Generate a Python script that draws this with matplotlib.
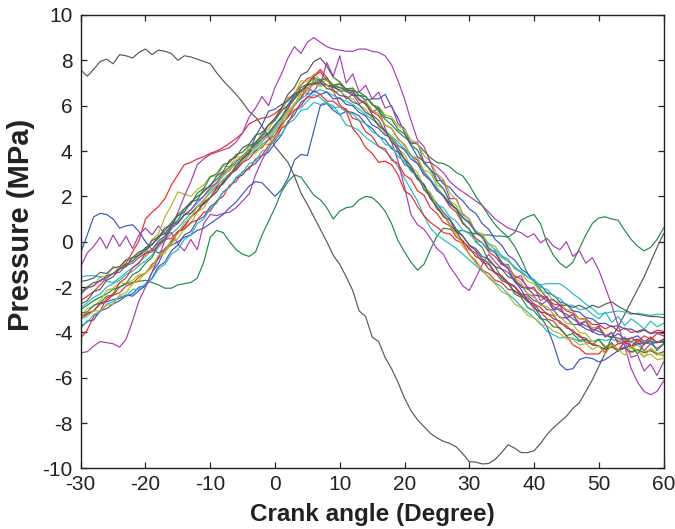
import matplotlib
matplotlib.use("Agg")
import matplotlib.pyplot as plt

# ---------------- data ----------------
ANGLE = list(range(-30, 61))  # crank angle, degrees

XTICKS = [-30, -20, -10, 0, 10, 20, 30, 40, 50, 60]
YTICKS = [-10, -8, -6, -4, -2, 0, 2, 4, 6, 8, 10]

B1 = [-0.5, 0.3, 1.1, 1.25, 1.2, 1.0, 0.6, 0.7, 0.75, 0.45,
      0.0, -0.35, -0.5, -0.35, -0.15, 0.0, 0.2, 0.3, 0.5, 0.6,
      0.8, 1.0, 1.2, 1.5, 1.75, 2.1, 2.45, 2.65, 2.6, 2.3,
      2.0, 2.3, 2.8, 3.6, 3.85, 3.8, 4.9, 6.0, 6.1, 5.8,
      5.6, 5.75, 5.7, 5.55, 5.2, 5.0, 4.65, 4.5, 4.1, 3.95,
      3.4, 3.25, 2.75, 2.55, 2.0, 1.7, 1.3, 1.0, 0.55, 0.25,
      -0.15, -0.4, -0.75, -0.95, -1.35, -1.5, -1.8, -1.95, -2.3, -2.35,
      -2.6, -2.7, -3.0, -3.0, -3.35, -3.35, -3.65, -3.65, -3.85, -3.95,
      -4.1, -4.1, -4.25, -4.05, -4.3, -4.25, -4.15, -4.4, -4.25, -4.45,
      -4.3]
G1 = [-3.0, -2.8, -2.6, -2.45, -2.3, -2.1, -2.0, -1.85, -1.8, -1.75,
      -1.7, -1.8, -1.9, -2.05, -2.05, -1.9, -1.85, -1.8, -1.6, -0.9,
      0.2, 0.5, 0.4, 0.0, -0.35, -0.55, -0.65, -0.45, 0.3, 0.9,
      1.5, 2.2, 2.65, 2.95, 2.85, 2.45, 2.05, 1.85, 1.5, 1.0,
      1.35, 1.5, 1.55, 1.85, 2.0, 1.95, 1.7, 1.35, 0.8, 0.05,
      -0.45, -0.9, -1.25, -1.0, -0.35, 0.25, 0.6, 0.55, 0.45, 0.5,
      0.4, 0.35, 0.3, 0.3, 0.25, 0.25, 0.2, -0.2, -0.75, -1.4,
      -1.75, -2.1, -2.5, -2.85, -3.05, -3.2, -3.4, -3.6, -3.7, -3.85,
      -3.95, -4.1, -4.2, -4.25, -4.3, -4.4, -4.3, -4.45, -4.5, -4.4,
      -4.45]
R1 = [-2.6, -2.4, -2.2, -1.9, -1.6, -1.4, -1.15, -0.95, -0.45, 0.05,
      1.0, 1.3, 1.55, 1.9, 2.5, 2.95, 3.4, 3.5, 3.65, 3.75,
      3.9, 4.0, 4.15, 4.35, 4.55, 4.8, 5.2, 5.35, 5.45, 5.5,
      5.65, 5.9, 6.3, 6.5, 6.9, 7.2, 7.3, 7.5, 7.1, 6.9,
      6.8, 6.65, 6.55, 6.3, 6.05, 5.75, 5.55, 5.15, 5.0, 4.55,
      4.25, 3.8, 3.6, 3.05, 2.75, 2.3, 2.0, 1.55, 1.3, 0.8,
      0.55, 0.15, -0.05, -0.45, -0.65, -1.0, -1.15, -1.5, -1.65, -2.0,
      -2.1, -2.35, -2.5, -2.75, -2.8, -3.05, -3.15, -3.4, -3.4, -3.65,
      -3.65, -3.85, -3.7, -3.95, -3.8, -4.0, -3.95, -3.85, -4.05, -3.9,
      -3.95]
C1 = [-2.9, -2.7, -2.45, -2.3, -2.0, -1.85, -1.7, -1.45, -1.3, -1.05,
      -0.85, -0.6, -0.25, 0.05, 0.35, 0.6, 0.95, 1.25, 1.55, 1.85,
      2.15, 2.45, 2.75, 3.0, 3.25, 3.5, 3.8, 4.05, 4.3, 4.5,
      4.85, 5.2, 5.5, 5.8, 5.9, 6.2, 6.5, 6.35, 6.1, 6.0,
      5.6, 5.15, 5.05, 4.9, 4.6, 4.4, 4.2, 4.0, 3.7, 3.3,
      2.8, 2.3, 1.8, 1.15, 0.6, 0.3, 0.1, -0.1, -0.3, -0.55,
      -0.8, -1.05, -1.3, -1.55, -1.8, -2.0, -2.3, -2.55, -2.85, -3.1,
      -3.35, -3.6, -3.95, -4.1, -4.25, -4.2, -4.25, -4.4, -4.35, -4.4,
      -4.3, -4.35, -4.3, -4.4, -4.35, -4.45, -4.5, -4.4, -4.5, -4.45,
      -4.35]
M1 = [-1.1, -0.5, -0.2, 0.2, -0.3, 0.3, -0.2, 0.25, -0.3, 0.3,
      0.6, 0.3, 0.7, 0.35, 0.4, -0.1, -0.4, 0.1, -0.35, 0.8,
      1.2, 1.15, 1.25, 1.3, 1.5, 1.8, 2.1, 2.95, 3.6, 4.1,
      4.6, 5.2, 5.5, 6.1, 6.3, 6.8, 6.6, 7.1, 6.9, 6.8,
      6.7, 6.3, 6.5, 6.1, 6.2, 5.7, 5.9, 5.0, 4.4, 3.55,
      2.4, 1.2, 0.75, 0.55, 0.15, -0.3, -0.55, -1.1, -1.5, -1.95,
      -2.15, -1.6, -1.0, -0.55, -0.9, -1.2, -1.35, -1.75, -1.9, -2.3,
      -2.4, -2.8, -2.6, -3.0, -2.95, -3.35, -3.2, -3.6, -3.5, -3.9,
      -3.8, -4.2, -4.0, -4.4, -4.2, -4.6, -4.4, -4.8, -4.5, -4.7,
      -4.5]
Y1 = [-2.35, -2.0, -1.95, -1.55, -1.5, -1.1, -1.2, -0.8, -0.85, -0.5,
      -0.6, 0.1, 0.35, 1.1, 1.6, 2.2, 2.1, 2.0, 2.3, 2.5,
      2.9, 2.9, 3.35, 3.3, 3.75, 3.7, 4.2, 4.3, 4.85, 4.95,
      5.45, 5.7, 6.35, 6.5, 7.1, 7.05, 7.4, 7.15, 7.25, 6.85,
      6.95, 6.6, 6.65, 6.25, 6.2, 5.8, 5.65, 5.15, 5.0, 4.5,
      4.3, 3.8, 3.7, 3.15, 3.05, 2.5, 2.35, 1.8, 1.6, 1.05,
      0.9, 0.45, 0.35, -0.1, -0.2, -0.65, -0.75, -1.2, -1.35, -1.75,
      -1.85, -2.2, -2.25, -2.6, -2.7, -3.0, -3.05, -3.4, -3.45, -3.8,
      -3.75, -4.1, -4.05, -4.35, -4.35, -4.7, -4.55, -4.85, -4.75, -5.0,
      -4.95]
K1 = [7.58, 7.3, 7.6, 7.95, 8.05, 7.85, 8.25, 8.2, 8.1, 8.35,
      8.5, 8.25, 8.45, 8.4, 8.3, 8.0, 8.2, 8.15, 8.05, 7.95,
      7.85, 7.45, 7.1, 6.8, 6.5, 6.15, 5.75, 5.5, 5.1, 4.65,
      4.2, 3.85, 3.5, 2.9, 2.15, 1.65, 1.1, 0.55, 0.0, -0.6,
      -1.0, -1.55, -2.15, -3.05, -3.3, -4.2, -4.4, -5.1, -5.6, -6.2,
      -6.9, -7.45, -7.85, -8.15, -8.45, -8.65, -8.8, -8.9, -9.05, -9.35,
      -9.7, -9.72, -9.8, -9.78, -9.6, -9.3, -8.95, -9.1, -9.3, -9.3,
      -9.22, -8.9, -8.5, -8.2, -7.95, -7.7, -7.35, -7.1, -6.6, -6.1,
      -5.5, -4.9, -4.2, -3.75, -3.2, -2.65, -2.1, -1.55, -0.9, -0.25,
      0.35]
B2 = [-3.4, -3.2, -3.05, -2.75, -2.65, -2.55, -2.5, -2.35, -2.4, -2.15,
      -1.95, -1.35, -0.95, -0.35, 0.0, 0.45, 0.7, 1.1, 1.3, 1.7,
      1.95, 2.35, 2.55, 2.95, 3.2, 3.65, 3.95, 4.65, 5.15, 5.75,
      5.85, 6.05, 6.2, 6.55, 6.6, 6.9, 7.0, 7.15, 6.9, 6.85,
      6.65, 6.65, 6.45, 6.45, 6.25, 6.3, 6.3, 6.5, 5.95, 5.45,
      4.8, 4.25, 3.75, 3.55, 3.15, 2.95, 2.55, 2.4, 2.05, 1.8,
      1.45, 1.25, 0.8, 0.55, 0.1, -0.15, -0.6, -0.8, -1.2, -1.4,
      -1.75, -1.9, -2.25, -2.35, -2.65, -2.75, -3.05, -3.1, -3.35, -3.4,
      -3.6, -3.6, -3.75, -3.7, -3.85, -3.85, -4.0, -3.9, -4.05, -4.0,
      -4.05]
G2 = [-2.2, -2.0, -1.8, -1.75, -1.5, -1.4, -1.2, -1.0, -0.85, -0.6,
      -0.4, -0.1, 0.15, 0.5, 0.85, 1.2, 1.45, 1.75, 2.0, 2.2,
      2.5, 2.75, 3.05, 3.3, 3.55, 3.8, 4.05, 4.3, 4.55, 4.8,
      5.15, 5.5, 5.9, 6.3, 6.6, 6.9, 7.0, 6.95, 6.9, 6.85,
      6.8, 6.7, 6.65, 6.6, 6.4, 6.1, 5.75, 5.4, 5.15, 4.85,
      4.6, 4.4, 4.3, 4.0, 3.7, 3.5, 3.45, 3.3, 3.05, 2.9,
      2.5, 2.0, 1.6, 1.15, 0.75, 0.45, 0.2, 0.4, 0.95, 1.1,
      1.2, 0.8, -0.05, -0.6, -0.95, -1.15, -0.9, -0.3, 0.3, 0.8,
      1.05, 1.1, 1.0, 0.95, 0.5, 0.1, -0.2, -0.4, -0.25, 0.1,
      0.6]
R2 = [-3.3, -3.15, -3.05, -2.7, -2.6, -2.35, -2.25, -1.95, -1.85, -1.55,
      -1.4, -1.0, -0.75, -0.3, -0.05, 0.4, 0.65, 1.1, 1.35, 1.75,
      1.95, 2.4, 2.6, 3.0, 3.15, 3.5, 3.65, 4.0, 4.15, 4.5,
      4.7, 5.15, 5.5, 6.0, 6.35, 6.95, 7.3, 7.6, 7.25, 6.65,
      6.05, 5.75, 5.0, 4.65, 4.15, 3.9, 3.5, 3.55, 3.4, 2.95,
      2.25, 2.05, 1.55, 1.15, 0.85, 0.65, 0.4, 0.35, 0.05, -0.05,
      -0.55, -0.85, -1.25, -1.4, -1.7, -1.8, -2.1, -2.15, -2.4, -2.55,
      -2.95, -3.1, -3.4, -3.5, -3.85, -4.15, -4.55, -4.7, -4.95, -4.95,
      -4.95, -4.65, -4.65, -4.5, -4.45, -4.25, -4.4, -4.15, -4.3, -4.05,
      -4.15]
C2 = [-1.55, -1.5, -1.5, -1.55, -1.75, -1.8, -1.6, -1.35, -1.15, -0.9,
      -0.65, -0.35, -0.05, 0.25, 0.55, 0.85, 1.15, 1.4, 1.7, 2.0,
      2.3, 2.6, 2.9, 3.2, 3.45, 3.65, 3.9, 4.15, 4.4, 4.7,
      5.0, 5.35, 5.75, 6.05, 6.3, 6.5, 6.6, 6.7, 6.6, 6.45,
      6.3, 6.2, 6.05, 5.85, 5.6, 5.4, 5.15, 4.9, 4.65, 4.4,
      4.1, 3.8, 3.45, 3.1, 2.75, 2.4, 2.05, 1.7, 1.4, 1.1,
      0.8, 0.5, 0.2, -0.1, -0.35, -0.6, -0.85, -1.1, -1.35, -1.55,
      -1.75, -1.9, -1.85, -1.85, -1.85, -2.05, -2.3, -2.5, -2.75, -2.95,
      -3.2, -3.15, -3.1, -3.05, -3.1, -3.2, -3.15, -3.2, -3.25, -3.2,
      -3.2]
M2 = [-2.3, -2.05, -1.95, -1.7, -1.6, -1.4, -1.35, -1.05, -0.95, -0.7,
      -0.5, -0.35, 0.05, 0.25, 0.65, 0.8, 1.2, 1.4, 1.8, 2.0,
      2.4, 2.6, 3.0, 3.15, 3.55, 3.7, 4.05, 4.2, 4.55, 4.75,
      5.1, 5.5, 5.85, 6.4, 6.7, 6.5, 7.2, 6.9, 7.9, 7.3,
      8.2, 7.0, 7.4, 6.6, 6.9, 6.3, 6.6, 5.9, 6.0, 5.2,
      5.0, 4.3, 4.4, 3.5, 3.5, 2.7, 2.7, 1.9, 1.9, 1.2,
      1.0, 0.4, 0.3, -0.4, -0.4, -1.0, -1.0, -1.6, -1.5, -2.1,
      -2.0, -2.6, -2.4, -3.0, -2.8, -3.4, -3.2, -3.7, -3.5, -4.0,
      -3.7, -4.2, -4.0, -4.5, -4.4, -5.1, -5.0, -5.7, -5.4, -5.9,
      -5.3]
Y2 = [-3.3, -2.95, -2.85, -2.6, -2.15, -2.05, -1.8, -1.85, -1.7, -1.45,
      -1.4, -1.15, -0.65, -0.5, -0.05, 0.15, 0.6, 0.8, 1.3, 1.5,
      1.95, 2.2, 2.7, 2.9, 3.4, 3.55, 3.85, 3.9, 4.25, 4.3,
      4.65, 5.0, 5.65, 6.0, 6.6, 6.75, 7.1, 6.95, 7.15, 6.9,
      7.0, 6.7, 6.8, 6.45, 6.4, 6.05, 5.95, 5.6, 5.5, 5.1,
      4.95, 4.5, 4.35, 3.8, 3.55, 3.0, 2.75, 2.15, 1.85, 1.25,
      1.0, 0.45, 0.3, -0.25, -0.45, -0.9, -1.1, -1.6, -1.8, -2.3,
      -2.45, -2.8, -2.85, -3.2, -3.3, -3.6, -3.65, -4.0, -4.05, -4.4,
      -4.35, -4.6, -4.5, -4.75, -4.65, -4.9, -4.8, -5.05, -4.95, -5.2,
      -5.15]
K2 = [-2.75, -2.6, -2.2, -2.1, -1.7, -1.55, -1.2, -1.1, -0.7, -0.6,
      -0.25, -0.15, 0.25, 0.35, 0.75, 0.85, 1.2, 1.25, 1.55, 1.65,
      1.95, 2.2, 2.65, 2.9, 3.35, 3.65, 3.9, 4.4, 4.65, 5.15,
      5.45, 5.9, 6.5, 6.8, 7.35, 7.5, 7.95, 8.1, 7.75, 7.25,
      7.05, 6.7, 6.65, 6.25, 6.1, 5.6, 5.35, 4.85, 4.55, 4.0,
      3.65, 3.15, 2.9, 2.3, 2.0, 1.45, 1.2, 0.75, 0.45, 0.0,
      -0.25, -0.65, -0.8, -1.2, -1.35, -1.7, -1.85, -2.2, -2.35, -2.65,
      -2.75, -3.1, -3.15, -3.4, -3.5, -3.8, -3.9, -4.2, -4.25, -4.55,
      -4.6, -4.75, -4.65, -4.8, -4.7, -4.85, -4.75, -4.9, -4.8, -4.95,
      -4.85]
B3 = [-3.8, -3.5, -3.45, -3.05, -2.95, -2.75, -2.6, -2.4, -2.3, -2.0,
      -1.95, -1.6, -1.1, -0.9, -0.4, -0.15, 0.3, 0.45, 0.95, 1.1,
      1.55, 1.75, 2.2, 2.4, 2.8, 2.95, 3.3, 3.45, 3.8, 3.95,
      4.35, 4.7, 5.3, 5.6, 6.15, 6.35, 6.65, 6.5, 6.6, 6.3,
      6.35, 6.05, 6.0, 5.7, 5.55, 5.15, 5.0, 4.7, 4.6, 4.25,
      4.05, 3.65, 3.45, 2.95, 2.7, 2.25, 2.05, 1.65, 1.45, 1.05,
      0.85, 0.4, 0.2, -0.3, -0.5, -0.9, -1.2, -1.75, -2.1, -2.6,
      -2.85, -3.3, -3.75, -4.5, -5.4, -5.65, -5.6, -5.2, -5.1, -5.15,
      -5.3, -5.2, -5.0, -4.8, -4.65, -4.6, -4.5, -4.5, -4.4, -4.45,
      -4.4]
G3 = [-3.15, -3.1, -2.8, -2.7, -2.4, -2.35, -2.0, -1.85, -1.45, -1.3,
      -0.95, -0.7, -0.1, 0.15, 0.7, 0.95, 1.45, 1.65, 2.15, 2.35,
      2.85, 3.0, 3.4, 3.5, 3.85, 3.95, 4.25, 4.35, 4.7, 4.8,
      5.15, 5.45, 6.05, 6.3, 6.8, 6.95, 7.25, 7.1, 7.2, 6.9,
      6.95, 6.75, 6.75, 6.45, 6.4, 6.05, 5.9, 5.5, 5.4, 4.95,
      4.75, 4.25, 4.05, 3.45, 3.2, 2.65, 2.35, 1.75, 1.45, 0.85,
      0.55, 0.0, -0.25, -0.85, -1.1, -1.6, -1.8, -2.3, -2.45, -2.9,
      -3.05, -3.4, -3.45, -3.75, -3.8, -4.15, -4.05, -4.35, -4.3, -4.55,
      -4.3, -4.7, -4.45, -4.85, -4.4, -4.6, -4.95, -4.5, -4.35, -4.8,
      -4.5]
R3 = [-4.25, -3.9, -3.3, -3.05, -2.5, -2.3, -1.8, -1.6, -1.15, -0.95,
      -0.5, -0.45, -0.15, 0.1, 0.15, 0.45, 0.55, 0.85, 0.95, 1.3,
      1.35, 1.8, 2.0, 2.5, 2.65, 3.1, 3.2, 3.65, 3.8, 4.25,
      4.45, 5.0, 5.2, 5.8, 6.0, 6.4, 6.35, 6.5, 6.2, 6.2,
      5.95, 5.85, 5.45, 5.35, 4.85, 4.65, 4.2, 4.1, 3.6, 3.45,
      2.95, 2.75, 2.25, 2.05, 1.5, 1.25, 0.85, 0.7, 0.2, 0.05,
      -0.35, -0.5, -0.9, -1.0, -1.4, -1.5, -1.85, -2.0, -2.35, -2.45,
      -2.75, -2.9, -3.2, -3.25, -3.6, -3.7, -4.0, -4.1, -4.45, -4.5,
      -4.6, -4.9, -4.55, -4.8, -4.4, -4.65, -4.3, -4.55, -4.2, -4.45,
      -4.3]
C3 = [-3.7, -3.55, -3.2, -3.1, -2.75, -2.65, -2.4, -2.4, -2.1, -2.1,
      -1.85, -1.65, -1.2, -1.0, -0.55, -0.35, 0.1, 0.3, 0.8, 1.0,
      1.45, 1.7, 2.2, 2.4, 2.85, 3.05, 3.45, 3.55, 4.0, 4.1,
      4.55, 4.75, 5.2, 5.4, 5.8, 5.85, 6.15, 6.05, 6.15, 5.9,
      5.95, 5.7, 5.65, 5.35, 5.2, 4.85, 4.7, 4.3, 4.2, 3.75,
      3.55, 3.1, 2.9, 2.4, 2.15, 1.65, 1.5, 1.1, 0.9, 0.5,
      0.35, 0.05, -0.05, -0.35, -0.45, -0.7, -0.85, -1.15, -1.3, -1.55,
      -1.65, -2.0, -2.1, -2.4, -2.5, -2.8, -2.8, -3.0, -2.95, -3.2,
      -3.4, -3.1, -3.55, -3.3, -3.7, -3.4, -3.6, -3.85, -3.5, -3.75,
      -3.6]
M3 = [-4.9, -4.85, -4.6, -4.4, -4.45, -4.5, -4.65, -4.3, -3.5, -2.6,
      -2.0, -1.35, -0.7, 0.05, 0.6, 1.3, 2.0, 2.65, 3.4, 3.65,
      3.85, 3.95, 4.05, 4.15, 4.4, 4.8, 5.5, 5.9, 6.4, 6.0,
      6.8, 7.4, 8.1, 8.6, 8.3, 8.8, 9.0, 8.8, 8.6, 8.5,
      8.45, 8.4, 8.4, 8.5, 8.5, 8.4, 8.35, 8.2, 7.8, 7.1,
      6.3, 5.35, 4.5, 4.2, 3.5, 3.3, 3.05, 2.65, 2.4, 2.2,
      2.0, 1.8, 1.6, 1.3, 1.0, 0.8, 0.6, 0.5, 0.4, 0.2,
      0.35, -0.05, 0.15, -0.2, -0.35, 0.0, -0.65, -0.4, -0.95, -0.7,
      -1.25, -2.0, -2.8, -3.7, -4.6, -5.6, -6.2, -6.6, -6.75, -6.6,
      -6.15]
Y3 = [-3.4, -3.3, -3.05, -3.05, -2.8, -2.75, -2.35, -2.25, -1.85, -1.7,
      -1.35, -1.1, -0.6, -0.4, 0.1, 0.35, 0.85, 1.05, 1.55, 1.8,
      2.25, 2.5, 2.95, 3.15, 3.6, 3.75, 4.1, 4.15, 4.5, 4.6,
      4.95, 5.25, 5.75, 6.05, 6.5, 6.65, 6.95, 6.85, 6.9, 6.6,
      6.65, 6.4, 6.3, 6.0, 5.85, 5.45, 5.2, 4.8, 4.6, 4.1,
      3.85, 3.3, 3.05, 2.45, 2.15, 1.55, 1.25, 0.7, 0.35, -0.2,
      -0.55, -0.95, -1.2, -1.6, -1.85, -2.2, -2.35, -2.75, -2.9, -3.25,
      -3.35, -3.65, -3.7, -3.95, -4.05, -4.3, -4.3, -4.55, -4.5, -4.75,
      -4.6, -4.95, -4.55, -4.75, -5.0, -4.6, -4.8, -5.1, -4.7, -4.9,
      -5.05]
K3 = [-1.75, -1.7, -1.6, -1.35, -1.4, -1.15, -1.1, -0.8, -0.7, -0.45,
      -0.35, 0.05, 0.2, 0.6, 0.75, 1.15, 1.3, 1.75, 1.85, 2.3,
      2.45, 2.9, 3.1, 3.6, 3.75, 4.15, 4.3, 4.7, 4.8, 5.15,
      5.35, 5.8, 6.0, 6.5, 6.65, 6.95, 6.95, 7.05, 6.75, 6.7,
      6.45, 6.4, 6.15, 6.05, 5.7, 5.55, 5.1, 4.9, 4.4, 4.15,
      3.65, 3.35, 2.8, 2.5, 1.9, 1.55, 1.1, 0.95, 0.45, 0.25,
      -0.15, -0.3, -0.65, -0.75, -1.1, -1.2, -1.55, -1.65, -2.0, -2.05,
      -2.35, -2.4, -2.6, -2.55, -2.8, -2.8, -2.9, -2.8, -2.95, -2.8,
      -2.9, -2.75, -2.65, -2.85, -3.0, -3.15, -3.2, -3.25, -3.3, -3.3,
      -3.35]

BLUE, GREEN, RED, CYAN = "#3a55c0", "#1f8a45", "#f02828", "#22bcc4"
MAGENTA, YELLOW, GRAY = "#a83cb0", "#b5b522", "#585858"

SERIES = [
    (B1, BLUE), (G1, GREEN), (R1, RED), (C1, CYAN), (M1, MAGENTA), (Y1, YELLOW), (K1, GRAY),
    (B2, BLUE), (G2, GREEN), (R2, RED), (C2, CYAN), (M2, MAGENTA), (Y2, YELLOW), (K2, GRAY),
    (B3, BLUE), (G3, GREEN), (R3, RED), (C3, CYAN), (M3, MAGENTA), (Y3, YELLOW), (K3, GRAY),
]

# ---------------- fonts ----------------
plt.rcParams["font.family"] = ["Liberation Sans", "DejaVu Sans"]
plt.rcParams["axes.unicode_minus"] = False

# ---------------- figure ----------------
fig = plt.figure(figsize=(6.75, 5.29), dpi=100)
ax = fig.add_axes([0.1196, 0.1144, 0.8634, 0.8573])

for vals, col in SERIES:
    ax.plot(ANGLE, vals, color=col, lw=0.85)

ax.set_xlim(-30, 60)
ax.set_ylim(-10, 10)
ax.set_xticks(XTICKS)
ax.set_yticks(YTICKS)
ax.tick_params(direction="in", length=4, width=0.9, top=True, right=True,
               labelsize=15, colors="#222222")
ax.tick_params(axis="x", pad=5)
ax.tick_params(axis="y", pad=6)
for s in ax.spines.values():
    s.set_linewidth(1.0)
    s.set_color("#222222")

fig.text(0.551, 0.016, "Crank angle (Degree)", ha="center", va="baseline",
         fontsize=17.5, fontweight="bold", color="#222222")
fig.text(0.031, 0.574, "Pressure (MPa)", ha="center", va="center", rotation=90,
         fontsize=21, fontweight="bold", color="#222222")

fig.savefig("out.png", dpi=100)
